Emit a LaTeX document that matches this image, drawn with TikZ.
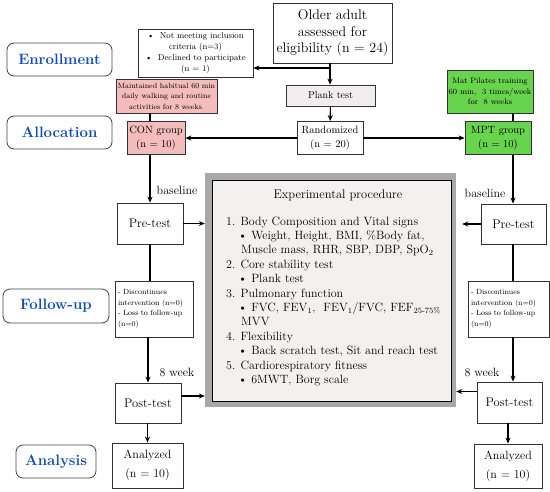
\documentclass[tikz,border=0pt]{standalone}
\usepackage{xcolor}
\usepackage{tikz}
\usetikzlibrary{arrows.meta, positioning, calc}
\definecolor{FlowBlue}{RGB}{14, 76, 184}
\definecolor{ConPink}{RGB}{244, 188, 188}
\definecolor{MptGreen}{RGB}{104, 212, 78}
\definecolor{ExpGray}{RGB}{168, 168, 168}
\definecolor{ExpFill}{RGB}{243, 241, 240}
\definecolor{PlankGray}{RGB}{241, 237, 237}

\begin{document}
\begin{tikzpicture}[x=1pt, y=-1pt,
    box/.style={draw=black!80, line width=0.8pt, align=center, inner sep=1pt},
    phase/.style={draw=black!75, rounded corners=7pt, line width=0.8pt, text=FlowBlue,
                  font=\fontsize{15}{17}\selectfont\bfseries},
    arr/.style={-{Stealth[length=6pt,width=5pt]}, line width=1.1pt},
    link/.style={line width=1.1pt}]
  \useasboundingbox (0,0) rectangle (550,492);

  % stage labels
  \node (enroll) [phase, minimum width=105pt, minimum height=33pt] at (59.5,59.5) {Enrollment};
  \node (alloc) [phase, minimum width=105pt, minimum height=33pt] at (59.5,132.5) {Allocation};
  \node (follow) [phase, minimum width=106pt, minimum height=34pt] at (56,306) {Follow-up};
  \node (analysis) [phase, minimum width=80pt, minimum height=33pt] at (56,461.5) {Analysis};

  % enrollment and allocation
  \node (older) [box, minimum width=119pt, minimum height=60pt,
                 font=\fontsize{14}{16.7}\selectfont] at (332.5,33)
        {Older adult\\assessed for\\eligibility (n = 24)};
  \node (excl) [box, minimum width=115pt, minimum height=48pt,
                font=\fontsize{8.5}{11}\selectfont] at (195.5,53)
        {\textbullet\ \ Not meeting inclusion\\criteria (n=3)\\\textbullet\ \ Declined to participate\\(n = 1)};
  \node (plank) [box, fill=PlankGray, minimum width=89pt, minimum height=21pt,
                 font=\fontsize{10}{12}\selectfont] at (330.5,95.5) {Plank test};
  \node (rand) [box, minimum width=66pt, minimum height=33pt,
                font=\fontsize{10.5}{13.5}\selectfont] at (330,138) {Randomized\\(n = 20)};
  \node (maint) [box, fill=ConPink, minimum width=101pt, minimum height=34pt,
                 font=\fontsize{7.5}{10.5}\selectfont] at (166.5,96)
        {Maintained habitual 60 min\\daily walking and routine\\activities for 8 weeks.};
  \node (con) [box, fill=ConPink, minimum width=58pt, minimum height=33pt,
               font=\fontsize{10.5}{13.5}\selectfont] at (156,138) {CON group\\(n = 10)};
  \node (mat) [box, fill=MptGreen, minimum width=86pt, minimum height=43pt,
               font=\fontsize{8}{10.3}\selectfont] at (490,91.5)
        {Mat Pilates training\\60 min,\ \ 3 times/week\\for\ \ 8 weeks};
  \node (mpt) [box, fill=MptGreen, minimum width=66pt, minimum height=33pt,
               font=\fontsize{10.5}{13.5}\selectfont] at (498,138) {MPT group\\(n = 10)};

  % experimental procedure
  \node (exp) [fill=ExpGray, minimum width=251pt, minimum height=234pt] at (330.5,290) {};
  \node (expIn) [draw, line width=0.6pt, fill=ExpFill, minimum width=239pt, minimum height=221pt]
        at (331.5,290.5) {};
  \node (expTitle) [font=\fontsize{12.5}{14}\selectfont] at (338,195) {Experimental procedure};
  \node (expList) [anchor=north west, align=left, inner sep=0pt,
                   font=\fontsize{12}{14.4}\selectfont] at (226,216.5) {%
    1. Body Composition and Vital signs\\
    \hspace*{12pt}\textbullet\ Weight, Height, BMI, \%Body fat,\\
    \hspace*{15pt}Muscle mass, RHR, SBP, DBP, SpO\textsubscript{2}\\
    2. Core stability test\\
    \hspace*{12pt}\textbullet\ Plank test\\
    3. Pulmonary function\\
    \hspace*{12pt}\textbullet\ FVC, FEV\textsubscript{1},\ \ FEV\textsubscript{1}/FVC, FEF\textsubscript{25-75\%}\\
    \hspace*{15pt}MVV\\
    4. Flexibility\\
    \hspace*{12pt}\textbullet\ Back scratch test, Sit and reach test\\
    5. Cardiorespiratory fitness\\
    \hspace*{12pt}\textbullet\ 6MWT, Borg scale};

  % left arm (CON)
  \node (preL) [box, minimum width=66pt, minimum height=41pt,
                font=\fontsize{12.5}{15}\selectfont] at (150,223.5) {Pre-test};
  \node (discL) [box, align=left, minimum width=78pt, minimum height=56pt, text width=72pt,
                 font=\fontsize{7.5}{10.7}\selectfont] at (154,309)
        {- Discontinues\\intervention (n=0)\\- Loss to follow-up\\(n=0)};
  \node (postL) [box, minimum width=66pt, minimum height=40pt,
                 font=\fontsize{12.5}{15}\selectfont] at (148,403) {Post-test};
  \node (analL) [box, minimum width=71pt, minimum height=45pt,
                 font=\fontsize{12}{19}\selectfont] at (147.5,465.5) {Analyzed\\(n = 10)};

  % right arm (MPT)
  \node (preR) [box, minimum width=65pt, minimum height=40pt,
                font=\fontsize{12.5}{15}\selectfont] at (513.5,224) {Pre-test};
  \node (discR) [box, align=left, minimum width=81pt, minimum height=56pt, text width=75pt,
                 font=\fontsize{7.5}{10.7}\selectfont] at (508.5,309)
        {- Discontinues\\intervention (n=0)\\- Loss to follow-up\\(n=0)};
  \node (postR) [box, minimum width=65pt, minimum height=41pt,
                 font=\fontsize{12.5}{15}\selectfont] at (509.5,402.5) {Post-test};
  \node (analR) [box, minimum width=68pt, minimum height=44pt,
                 font=\fontsize{12}{19}\selectfont] at (508,466) {Analyzed\\(n = 10)};

  % side labels
  \node (baseL) [font=\fontsize{12}{14}\selectfont] at (177,190) {baseline};
  \node (baseR) [font=\fontsize{12}{14}\selectfont] at (485,193) {baseline};
  \node (weekL) [font=\fontsize{12}{14}\selectfont] at (177,372) {8 week};
  \node (weekR) [font=\fontsize{12}{14}\selectfont] at (482,372) {8 week};

  \coordinate (colL) at (150,0);
  \coordinate (colR) at (513,0);
  \coordinate (split) at (330,68);

  % connectors
  \draw[link] (older.south -| split) -- (split);
  \draw[arr] (split) -- (split -| excl.east);
  \draw[arr] (split) -- (plank.north -| split);
  \draw[arr] (plank) -- (rand);
  \draw[arr] (rand) -- (con);
  \draw[arr] (rand) -- (mpt);
  \draw[link] (maint.south -| colL) -- (con.north -| colL);
  \draw[link] (mat.south -| colR) -- (mpt.north -| colR);
  \draw[arr] (con.south -| colL) -- (preL.north -| colL);
  \draw[arr] (mpt.south -| colR) -- (preR.north -| colR);
  \draw[link] (preL.south -| colL) -- (discL.north -| colL);
  \draw[link] (preR.south -| colR) -- (discR.north -| colR);
  \draw[arr] (discL.south -| postL) -- (postL.north);
  \draw[arr] (discR.south -| colR) -- (postR.north -| colR);
  \draw[arr] (postL.south -| analL) -- (analL.north);
  \draw[arr] (postR.south -| analR) -- (analR.north);
  \draw[arr] (preL.east) -- (preL.east -| exp.west);
  \draw[arr, shorten >=6pt] (preR.west) -- (preR.west -| exp.east);
  \draw[arr] ([yshift=7pt]postL.east) -- ([yshift=7pt]postL.east -| exp.west);
  \draw[arr] ([yshift=11pt]postR.west) -- ([yshift=11pt]postR.west -| exp.east);
\end{tikzpicture}
\end{document}
